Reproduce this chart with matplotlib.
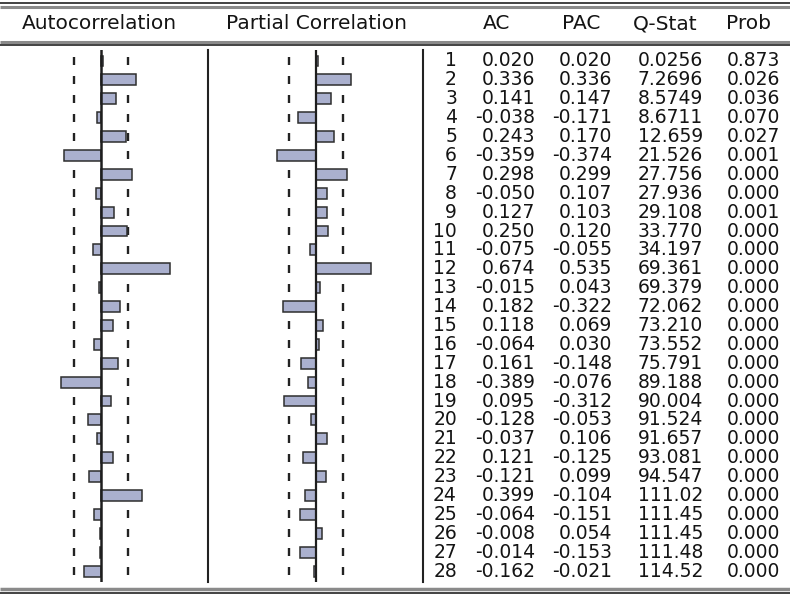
import matplotlib
matplotlib.use("Agg")
import matplotlib.pyplot as plt
import numpy as np

# correlogram values
lags = np.arange(1, 29)
ac = [0.020, 0.336, 0.141, -0.038, 0.243, -0.359, 0.298, -0.050, 0.127, 0.250,
      -0.075, 0.674, -0.015, 0.182, 0.118, -0.064, 0.161, -0.389, 0.095, -0.128,
      -0.037, 0.121, -0.121, 0.399, -0.064, -0.008, -0.014, -0.162]
pac = [0.020, 0.336, 0.147, -0.171, 0.170, -0.374, 0.299, 0.107, 0.103, 0.120,
       -0.055, 0.535, 0.043, -0.322, 0.069, 0.030, -0.148, -0.076, -0.312, -0.053,
       0.106, -0.125, 0.099, -0.104, -0.151, 0.054, -0.153, -0.021]
q_stat = [0.0256, 7.2696, 8.5749, 8.6711, 12.659, 21.526, 27.756, 27.936, 29.108, 33.770,
          34.197, 69.361, 69.379, 72.062, 73.210, 73.552, 75.791, 89.188, 90.004, 91.524,
          91.657, 93.081, 94.547, 111.02, 111.45, 111.45, 111.48, 114.52]
prob = [0.873, 0.026, 0.036, 0.070, 0.027, 0.001, 0.000, 0.000, 0.001, 0.000,
        0.000, 0.000, 0.000, 0.000, 0.000, 0.000, 0.000, 0.000, 0.000, 0.000,
        0.000, 0.000, 0.000, 0.000, 0.000, 0.000, 0.000, 0.000]
conf_band = 0.258
headers = ["AC", "PAC", "Q-Stat", "Prob"]

W, H = 790, 596
TXT = "#141414"
BAR = "#aab0ce"
plt.rcParams['font.family'] = ['DejaVu Sans']

fig = plt.figure(figsize=(W / 100, H / 100), dpi=100)


def px_axes(x0, y0, x1, y1):
    ax = fig.add_axes([x0 / W, 1 - y1 / H, (x1 - x0) / W, (y1 - y0) / H])
    ax.set_axis_off()
    return ax


# vertical layout of the rows (pixel space)
top, bottom = 50, 582
row1, row_step = 61, 18.89
ylim = (28 + (bottom - (row1 + 27 * row_step)) / row_step, 1 - (row1 - top) / row_step)
scale = 103.0  # px per unit of correlation


def fmt(v):
    return f"{v:.3f}"


def fmt_q(v):
    if v < 10:
        return f"{v:.4f}"
    if v < 100:
        return f"{v:.3f}"
    return f"{v:.2f}"


# overlay for rules and headers
ov = px_axes(0, 0, W, H)
ov.set_xlim(0, W)
ov.set_ylim(H, 0)
ov.set_zorder(0)
for y, c, lw in [(3, "#222222", 1.2), (6.5, "#8a8a8a", 2.2), (41.5, "#8a8a8a", 2.2),
                 (44.5, "#222222", 1.2), (589, "#8a8a8a", 2.5), (593, "#222222", 1.2)]:
    ov.plot([0, W], [y, y], color=c, lw=lw, solid_capstyle='butt')
for x in (208, 423):
    ov.plot([x, x], [top, bottom], color="#222222", lw=1.5)

ov.text(99, 23.5, "Autocorrelation", ha='center', va='center', fontsize=14.5, color=TXT)
ov.text(316, 23.5, "Partial Correlation", ha='center', va='center', fontsize=14.5, color=TXT)
for h, xc in zip(headers, [497, 581, 665, 749]):
    ov.text(xc, 23.5, h, ha='center', va='center', fontsize=14.5, color=TXT)

# bar panels
for vals, (x0, x1, zx, zlw) in [(ac, (10, 200, 101, 1.8)), (pac, (225, 415, 316, 1.6))]:
    ax = px_axes(x0, top, x1, bottom)
    ax.set_xlim((x0 - zx) / scale, (x1 - zx) / scale)
    ax.set_ylim(*ylim)
    ax.barh(lags, vals, height=0.58, color=BAR, edgecolor="#2e2e2e", linewidth=1.1, zorder=2)
    ax.axvline(0, color="#1e1e1e", lw=zlw, zorder=3)
    for b in (-conf_band, conf_band):
        ax.vlines(np.full(len(lags), b), lags - 0.21, lags + 0.21, color="#222222", lw=1.7, zorder=1)

# numeric table
tb = px_axes(423, top, W, bottom)
tb.set_xlim(423, W)
tb.set_ylim(*ylim)
cols = [(457, [str(k) for k in lags]), (535, [fmt(v) for v in ac]), (612, [fmt(v) for v in pac]),
        (703, [fmt_q(v) for v in q_stat]), (780, [fmt(v) for v in prob])]
for xr, labels in cols:
    for k, s in zip(lags, labels):
        tb.text(xr, k, s, ha='right', va='center', fontsize=13.5, color=TXT)

fig.savefig("out.png", dpi=100)
